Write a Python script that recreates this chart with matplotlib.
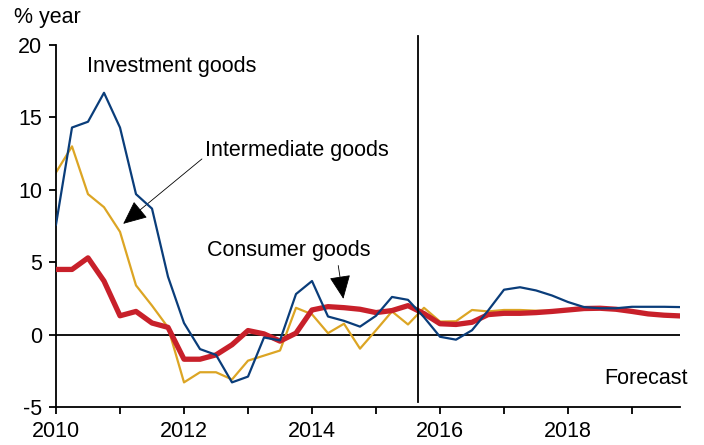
import matplotlib
matplotlib.use('Agg')
import matplotlib.pyplot as plt
import numpy as np

plt.rcParams['font.family'] = ['Liberation Sans', 'DejaVu Sans']
plt.rcParams['axes.unicode_minus'] = False

# quarterly, 2010Q1 .. 2019Q4
quarters = np.arange(2010, 2020, 0.25)

investment = [7.6, 14.3, 14.7, 16.7, 14.3, 9.7, 8.7, 4.0, 0.8, -1.0,
              -1.4, -3.3, -2.9, -0.2, -0.4, 2.8, 3.7, 1.25, 0.95, 0.55,
              1.3, 2.6, 2.4, 1.2, -0.15, -0.35, 0.3, 1.65, 3.1, 3.27,
              3.05, 2.7, 2.25, 1.9, 1.82, 1.82, 1.92, 1.92, 1.92, 1.9]
intermediate = [11.2, 13.0, 9.7, 8.8, 7.1, 3.4, 2.0, 0.5, -3.3, -2.6,
                -2.6, -3.1, -1.8, -1.45, -1.1, 1.85, 1.4, 0.1, 0.75, -0.97,
                0.3, 1.6, 0.7, 1.85, 0.9, 0.92, 1.7, 1.6, 1.7, 1.7,
                1.65, 1.65, 1.7, 1.75, 1.8, 1.75, 1.6, 1.45, 1.35, 1.3]
consumer = [4.5, 4.5, 5.3, 3.7, 1.3, 1.6, 0.8, 0.5, -1.7, -1.7,
            -1.4, -0.7, 0.28, 0.05, -0.45, 0.1, 1.7, 1.93, 1.86, 1.75,
            1.52, 1.66, 2.0, 1.45, 0.75, 0.7, 0.85, 1.38, 1.47, 1.47,
            1.52, 1.6, 1.7, 1.8, 1.82, 1.75, 1.6, 1.43, 1.34, 1.29]

forecast_start = 2015.65
fs = 15.5

fig = plt.figure(figsize=(7.04, 4.45), dpi=100)
ax = fig.add_axes([56/704, 1 - 407/445, (680 - 56)/704, (407 - 45)/445])

ax.axhline(0, color='k', lw=1.3, zorder=1)
ax.plot(quarters, intermediate, color='#dca524', lw=1.6, zorder=2)
ax.plot(quarters, consumer, color='#c8202a', lw=3.8, zorder=3)
ax.plot(quarters, investment, color='#0a3d7a', lw=1.6, zorder=4)

# forecast divider
ax.plot([forecast_start, forecast_start], [-4.63, 20.6], color='k', lw=1.3,
        clip_on=False, zorder=5)

ax.set_xlim(2010, 2019.75)
ax.set_ylim(-5, 20)
ax.set_xticks(np.arange(2010, 2020, 1))
ax.set_xticklabels(['2010', '', '2012', '', '2014', '', '2016', '', '2018', ''])
ax.set_yticks([-5, 0, 5, 10, 15, 20])
ax.tick_params(axis='both', direction='out', length=5, width=1.3,
               labelsize=fs, pad=5)
for s in ['top', 'right']:
    ax.spines[s].set_visible(False)
for s in ['left', 'bottom']:
    ax.spines[s].set_linewidth(1.3)

ax.text(2010.48, 18.5, 'Investment goods', fontsize=fs, va='center', ha='left')
ax.text(2012.33, 12.7, 'Intermediate goods', fontsize=fs, va='center', ha='left')
ax.text(2012.36, 5.8, 'Consumer goods', fontsize=fs, va='center', ha='left')
ax.text(2019.87, -3.0, 'Forecast', fontsize=fs, va='center', ha='right')

arrow = dict(arrowstyle='-|>,head_length=1.0,head_width=0.45', lw=0.6,
             color='k', shrinkA=0, shrinkB=0, mutation_scale=15)
ax.annotate('', xy=(2011.05, 7.65), xytext=(2012.28, 12.13), arrowprops=arrow)
ax.annotate('', xy=(2014.49, 2.47), xytext=(2014.41, 4.77), arrowprops=arrow)

fig.text(14/704, 1 - 18/445, '% year', fontsize=fs, va='center', ha='left')

fig.savefig('out.png', dpi=100)
